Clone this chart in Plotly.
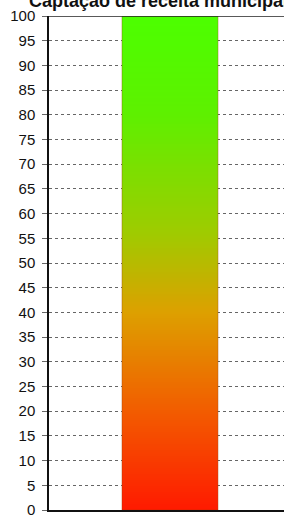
import numpy as np
import plotly.graph_objects as go

title_text = "Captação de receita municipal"
categories = ["Receita"]
values = [100]
y_ticks = list(range(0, 101, 5))

# gradient colours by value level
colorscale = [
    [0.00, "#ff1a00"],
    [0.20, "#f25c00"],
    [0.40, "#dda000"],
    [0.56, "#9fcb00"],
    [0.80, "#5ef000"],
    [1.00, "#4cff00"],
]

bar_half = 0.1985
fig = go.Figure()
for i, (cat, v) in enumerate(zip(categories, values)):
    edges = np.linspace(0, v, 248)
    centers = (edges[:-1] + edges[1:]) / 2
    fig.add_trace(go.Heatmap(
        x=[i - bar_half, i + bar_half],
        y=edges,
        z=[[c] for c in centers],
        zmin=0, zmax=100,
        colorscale=colorscale,
        showscale=False,
        hoverinfo="skip",
    ))
    fig.add_trace(go.Bar(
        x=[i], y=[v], width=2 * bar_half,
        marker=dict(color="rgba(0,0,0,0)", line=dict(color="rgba(150,60,0,0.35)", width=1)),
        showlegend=False, hoverinfo="skip",
    ))

fig.add_shape(type="line", xref="paper", yref="y", x0=0, x1=1, y0=100, y1=100,
              line=dict(color="#222222", width=1.5))

fig.add_annotation(
    text="<b>" + title_text + "</b>", xref="paper", yref="paper",
    x=-0.0936, y=1.006, xanchor="left", yanchor="bottom", showarrow=False,
    font=dict(family="Liberation Sans, Arial", size=18, color="#111111"),
)

fig.update_layout(
    width=284, height=515,
    margin=dict(l=49, r=0, t=16, b=5),
    paper_bgcolor="white", plot_bgcolor="white",
    showlegend=False,
    font=dict(family="Liberation Sans, Arial", size=15, color="#111111"),
    xaxis=dict(range=[-0.5, 0.471], showticklabels=False, showgrid=False, zeroline=False,
               showline=True, linecolor="#111111", linewidth=1.5, ticks="", automargin=False),
    yaxis=dict(range=[0, 100], tickvals=y_ticks, ticktext=[str(t) for t in y_ticks],
               showgrid=True, gridcolor="#666666", griddash="dot", gridwidth=1,
               zeroline=False, showline=True, linecolor="#111111", linewidth=1.5,
               ticks="outside", ticklen=5, tickcolor="#666666", ticklabelstandoff=4,
               automargin=False, ticklabeloverflow="allow"),
)

fig.write_html("out.html", config={"displayModeBar": False},
               post_script="document.body.style.margin='0';document.body.style.padding='0';")
